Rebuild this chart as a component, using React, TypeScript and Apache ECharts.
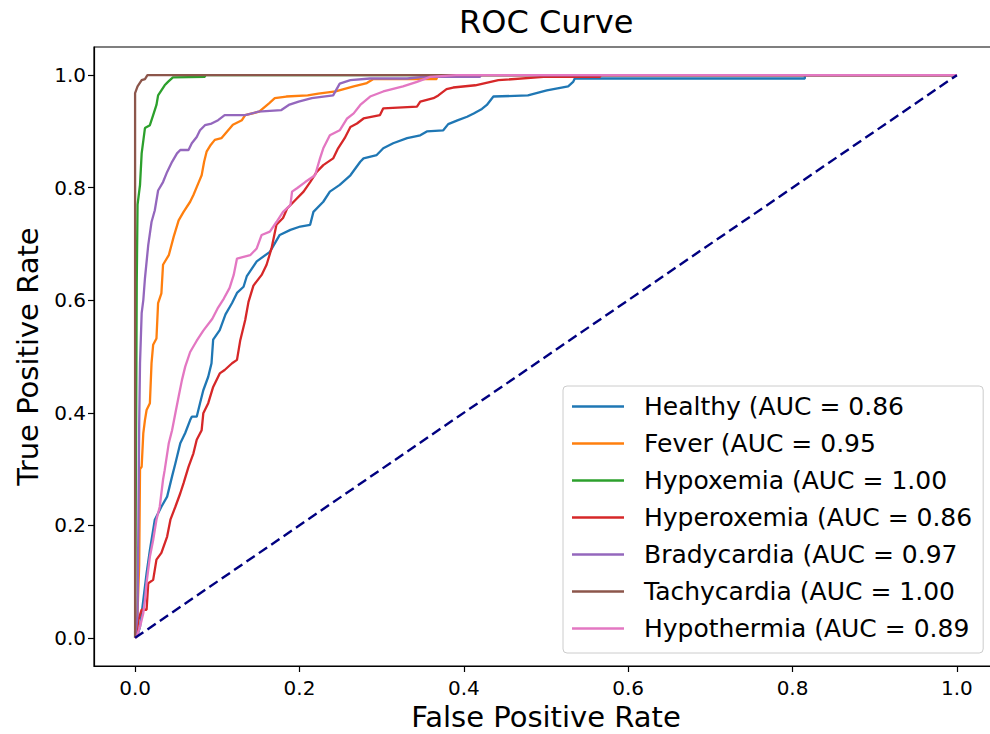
import React, { useEffect, useRef } from "react";
import * as echarts from "echarts";

const seriesNames = [
  "Healthy (AUC = 0.86",
  "Fever (AUC = 0.95",
  "Hypoxemia (AUC = 1.00",
  "Hyperoxemia (AUC = 0.86",
  "Bradycardia (AUC = 0.97",
  "Tachycardia (AUC = 1.00",
  "Hypothermia (AUC = 0.89",
];

const seriesColors = ["#1f77b4", "#ff7f0e", "#2ca02c", "#d62728", "#9467bd", "#8c564b", "#e377c2"];

const tickValues = [0, 0.2, 0.4, 0.6, 0.8, 1.0];

const healthy = [
  [0, 0], [0.003, 0.005], [0.006, 0.02], [0.010, 0.067], [0.014, 0.115], [0.018, 0.156], [0.024, 0.210],
  [0.032, 0.233], [0.039, 0.251], [0.045, 0.287], [0.049, 0.310], [0.055, 0.346], [0.061, 0.364],
  [0.067, 0.387], [0.069, 0.393], [0.075, 0.393], [0.079, 0.417], [0.083, 0.440], [0.089, 0.464],
  [0.093, 0.488], [0.095, 0.530], [0.103, 0.547], [0.110, 0.575], [0.118, 0.595], [0.124, 0.613],
  [0.132, 0.624], [0.136, 0.643], [0.148, 0.669], [0.164, 0.686], [0.176, 0.716], [0.189, 0.725],
  [0.201, 0.731], [0.213, 0.734], [0.217, 0.757], [0.229, 0.775], [0.237, 0.793], [0.249, 0.805],
  [0.262, 0.822], [0.274, 0.846], [0.278, 0.852], [0.294, 0.858], [0.302, 0.870], [0.314, 0.879],
  [0.331, 0.888], [0.347, 0.893], [0.355, 0.900], [0.375, 0.902], [0.381, 0.913], [0.393, 0.920],
  [0.404, 0.926], [0.412, 0.932], [0.422, 0.940], [0.428, 0.947], [0.436, 0.962], [0.478, 0.964],
  [0.501, 0.973], [0.527, 0.980], [0.533, 0.988], [0.535, 0.994], [0.815, 0.994], [0.815, 1], [1, 1],
];

const fever = [
  [0, 0], [0.002, 0.005], [0.005, 0.13], [0.006, 0.30], [0.008, 0.304], [0.010, 0.364], [0.012, 0.387],
  [0.014, 0.405], [0.018, 0.417], [0.020, 0.488], [0.022, 0.521], [0.026, 0.532], [0.028, 0.595],
  [0.032, 0.612], [0.034, 0.663], [0.041, 0.680], [0.047, 0.713], [0.053, 0.742], [0.059, 0.757],
  [0.067, 0.775], [0.071, 0.787], [0.077, 0.808], [0.081, 0.822], [0.084, 0.846], [0.087, 0.864],
  [0.092, 0.876], [0.097, 0.885], [0.105, 0.888], [0.112, 0.900], [0.119, 0.912], [0.130, 0.920],
  [0.134, 0.929], [0.151, 0.935], [0.163, 0.950], [0.170, 0.959], [0.184, 0.962], [0.210, 0.964],
  [0.223, 0.967], [0.244, 0.971], [0.266, 0.980], [0.282, 0.986], [0.290, 0.993], [0.367, 0.993],
  [0.367, 1], [1, 1],
];

const hypoxemia = [
  [0, 0], [0.001, 0.3], [0.002, 0.63], [0.003, 0.77], [0.006, 0.805], [0.008, 0.861], [0.012, 0.906],
  [0.018, 0.911], [0.022, 0.929], [0.026, 0.947], [0.028, 0.964], [0.032, 0.973], [0.036, 0.982],
  [0.040, 0.988], [0.046, 0.996], [0.085, 0.997], [0.085, 1], [1, 1],
];

const hyperoxemia = [
  [0, 0], [0.002, 0.01], [0.004, 0.032], [0.008, 0.050], [0.014, 0.05], [0.016, 0.097], [0.022, 0.103],
  [0.026, 0.139], [0.032, 0.151], [0.039, 0.180], [0.043, 0.210], [0.049, 0.233], [0.055, 0.257],
  [0.059, 0.275], [0.065, 0.304], [0.071, 0.328], [0.075, 0.352], [0.081, 0.369], [0.083, 0.399],
  [0.089, 0.417], [0.095, 0.446], [0.103, 0.470], [0.109, 0.476], [0.118, 0.488], [0.124, 0.494],
  [0.128, 0.529], [0.134, 0.565], [0.138, 0.597], [0.144, 0.626], [0.154, 0.645], [0.160, 0.663],
  [0.166, 0.692], [0.172, 0.734], [0.180, 0.746], [0.185, 0.763], [0.193, 0.775], [0.205, 0.793],
  [0.213, 0.810], [0.221, 0.828], [0.229, 0.840], [0.241, 0.852], [0.247, 0.870], [0.255, 0.888],
  [0.262, 0.908], [0.270, 0.914], [0.278, 0.923], [0.298, 0.929], [0.302, 0.941], [0.343, 0.944],
  [0.347, 0.953], [0.363, 0.959], [0.369, 0.964], [0.379, 0.975], [0.387, 0.978], [0.414, 0.982],
  [0.442, 0.991], [0.497, 0.997], [0.566, 0.997], [0.566, 1], [1, 1],
];

const bradycardia = [
  [0, 0], [0.003, 0.04], [0.004, 0.2], [0.005, 0.38], [0.006, 0.488], [0.008, 0.577], [0.010, 0.600],
  [0.012, 0.639], [0.016, 0.698], [0.020, 0.739], [0.024, 0.760], [0.028, 0.795], [0.034, 0.810],
  [0.039, 0.828], [0.045, 0.846], [0.051, 0.861], [0.055, 0.867], [0.065, 0.867], [0.069, 0.879],
  [0.075, 0.890], [0.079, 0.902], [0.085, 0.911], [0.093, 0.914], [0.101, 0.920], [0.109, 0.929],
  [0.134, 0.929], [0.150, 0.935], [0.178, 0.938], [0.187, 0.947], [0.199, 0.953], [0.215, 0.959],
  [0.241, 0.964], [0.249, 0.985], [0.262, 0.991], [0.286, 0.994], [0.331, 0.994], [0.351, 0.997],
  [0.420, 0.997], [0.420, 1], [1, 1],
];

const tachycardia = [
  [0, 0], [0, 0.968], [0.003, 0.98], [0.008, 0.991], [0.012, 0.993], [0.015, 1], [1, 1],
];

const hypothermia = [
  [0, 0], [0.002, 0.002], [0.006, 0.02], [0.010, 0.044], [0.012, 0.067], [0.014, 0.098], [0.018, 0.144],
  [0.022, 0.174], [0.026, 0.210], [0.030, 0.233], [0.034, 0.281], [0.036, 0.298], [0.041, 0.346],
  [0.045, 0.369], [0.049, 0.399], [0.053, 0.429], [0.057, 0.458], [0.061, 0.482], [0.067, 0.508],
  [0.075, 0.528], [0.083, 0.546], [0.094, 0.567], [0.101, 0.587], [0.108, 0.603], [0.115, 0.622],
  [0.120, 0.645], [0.124, 0.674], [0.140, 0.680], [0.148, 0.692], [0.154, 0.716], [0.164, 0.722],
  [0.172, 0.739], [0.180, 0.757], [0.189, 0.769], [0.191, 0.793], [0.197, 0.799], [0.207, 0.810],
  [0.219, 0.822], [0.225, 0.852], [0.229, 0.870], [0.237, 0.893], [0.249, 0.902], [0.258, 0.923],
  [0.266, 0.932], [0.274, 0.947], [0.286, 0.962], [0.302, 0.971], [0.326, 0.980], [0.343, 0.988],
  [0.359, 0.997], [0.391, 1], [1, 1],
];

const chanceLine = [[0, 0], [1, 1]];

const curves = [healthy, fever, hypoxemia, hyperoxemia, bradycardia, tachycardia, hypothermia];

const FONT = "DejaVu Sans";

export default function App() {
  const ref = useRef<HTMLDivElement>(null);

  useEffect(() => {
    if (!ref.current) return;
    const chart = echarts.init(ref.current, undefined, { renderer: "svg" });
    const series: any[] = curves.map((data, i) => ({
      name: seriesNames[i],
      type: "line",
      data,
      symbol: "none",
      showSymbol: false,
      lineStyle: { color: seriesColors[i], width: 2.3 },
      itemStyle: { color: seriesColors[i] },
      z: 2 + i,
    }));
    series.push({
      name: "chance",
      type: "line",
      data: chanceLine,
      symbol: "none",
      showSymbol: false,
      lineStyle: { color: "#000080", width: 2.4, type: [10, 5] },
      itemStyle: { color: "#000080" },
      z: 20,
    });

    chart.setOption({
      animation: false,
      backgroundColor: "#ffffff",
      textStyle: { fontFamily: FONT },
      title: {
        text: "ROC Curve",
        left: 459,
        top: 6,
        padding: 0,
        textStyle: { fontFamily: FONT, fontSize: 32, fontWeight: "normal", color: "#000" },
      },
      grid: {
        left: 94,
        top: 47,
        width: 904,
        height: 619,
        containLabel: false,
        outerBoundsMode: "none",
        show: true,
        borderColor: "#000",
        borderWidth: 1.2,
        backgroundColor: "transparent",
      },
      legend: {
        data: seriesNames,
        orient: "vertical",
        left: 563,
        top: 386,
        padding: [8, 11, 12, 9],
        icon: "rect",
        itemWidth: 52,
        itemHeight: 2.3,
        itemGap: 12,
        backgroundColor: "rgba(255,255,255,0.8)",
        borderColor: "#cccccc",
        borderWidth: 1,
        borderRadius: 4,
        textStyle: {
          fontFamily: FONT,
          fontSize: 25,
          lineHeight: 24,
          color: "#000",
          padding: [0, 0, 0, 15],
        },
      },
      xAxis: {
        type: "value",
        min: -0.05,
        max: 1.05,
        name: "False Positive Rate",
        nameLocation: "middle",
        nameGap: 36,
        nameTextStyle: { fontFamily: FONT, fontSize: 29, color: "#000" },
        axisLine: { show: true, onZero: false, lineStyle: { color: "#000", width: 1.2 } },
        axisTick: { show: true, customValues: tickValues, length: 6, lineStyle: { color: "#000", width: 1.2 } },
        axisLabel: {
          customValues: tickValues,
          formatter: (v: number) => v.toFixed(1),
          fontFamily: FONT,
          fontSize: 20,
          color: "#000",
          margin: 12,
        },
        splitLine: { show: false },
      },
      yAxis: {
        type: "value",
        min: -0.05,
        max: 1.05,
        name: "True Positive Rate",
        nameLocation: "middle",
        nameGap: 52,
        nameTextStyle: { fontFamily: FONT, fontSize: 29, color: "#000" },
        axisLine: { show: true, onZero: false, lineStyle: { color: "#000", width: 1.2 } },
        axisTick: { show: true, customValues: tickValues, length: 6, lineStyle: { color: "#000", width: 1.2 } },
        axisLabel: {
          customValues: tickValues,
          formatter: (v: number) => v.toFixed(1),
          fontFamily: FONT,
          fontSize: 20,
          color: "#000",
          margin: 8,
        },
        splitLine: { show: false },
      },
      series,
    });
    return () => chart.dispose();
  }, []);

  return (
    <div
      ref={ref}
      style={{ position: "fixed", left: 0, top: 0, width: 990, height: 734, background: "#fff" }}
    />
  );
}
